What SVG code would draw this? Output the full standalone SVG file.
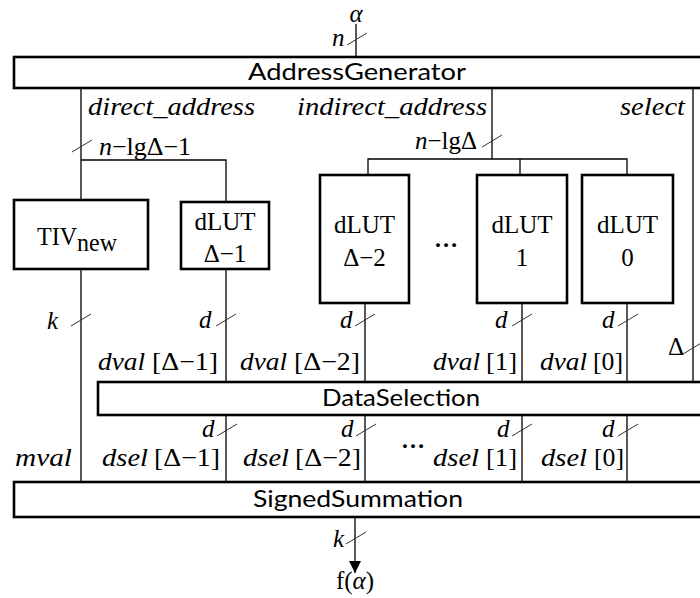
<svg xmlns="http://www.w3.org/2000/svg" xmlns:xlink="http://www.w3.org/1999/xlink" width="700" height="598" viewBox="0 0 700 598">
<style>
.box{fill:#fff;stroke:#000;stroke-width:2.6}
.ln{fill:none;stroke:#000;stroke-width:1.3}
.tk{fill:none;stroke:#333;stroke-width:1}
.sans{font-family:Lato,"Liberation Sans",sans-serif;font-size:23px;fill:#000}
.ser{font-family:"Liberation Serif",serif;font-size:25px;fill:#000}
.it{font-family:"Liberation Serif",serif;font-style:italic;font-size:25px;fill:#000}
.dots{font-family:"Liberation Serif",serif;font-weight:bold;font-size:24px;fill:#000}
</style>
<defs>
<path id="tick" d="M-10,6 L10,-6"/>
<marker id="arr" markerWidth="12" markerHeight="12" refX="12" refY="6" orient="auto" markerUnits="userSpaceOnUse" viewBox="0 0 12 12">
<path d="M0,0 L12,6 L0,12 Z" fill="#000"/>
</marker>
</defs>
<rect width="700" height="598" fill="#fff"/>

<g id="connectors">
<path class="ln" d="M356,24 V57"/>
<path class="ln" d="M81,88 V200 M81,269 V482"/>
<path class="ln" d="M81,160 H226 V202"/>
<path class="ln" d="M226,269 V382 M226,415 V482"/>
<path class="ln" d="M492,88 V159 M368,175 V159 H627 V175 M520,159 V175"/>
<path class="ln" d="M365,303 V382 M365,415 V482"/>
<path class="ln" d="M522,303 V382 M522,415 V482"/>
<path class="ln" d="M627,303 V382 M627,415 V482"/>
<path class="ln" d="M693,88 V382"/>
<path class="ln" d="M355,517 V573" marker-end="url(#arr)"/>
<g class="tk">
<use xlink:href="#tick" x="357" y="39"/>
<use xlink:href="#tick" x="82" y="146"/>
<use xlink:href="#tick" x="492" y="141"/>
<use xlink:href="#tick" x="81" y="320"/>
<use xlink:href="#tick" x="226" y="320"/>
<use xlink:href="#tick" x="365" y="320"/>
<use xlink:href="#tick" x="522" y="320"/>
<use xlink:href="#tick" x="628" y="320"/>
<use xlink:href="#tick" x="693" y="348"/>
<use xlink:href="#tick" x="227" y="430"/>
<use xlink:href="#tick" x="366" y="430"/>
<use xlink:href="#tick" x="522" y="430"/>
<use xlink:href="#tick" x="628" y="430"/>
<use xlink:href="#tick" x="356" y="538"/>
</g>
</g>

<g id="labels">
<text class="it" x="356" y="22" font-size="22" text-anchor="middle">α</text>
<text class="it" x="332" y="46">n</text>
<text class="it" x="88" y="115" textLength="167" lengthAdjust="spacingAndGlyphs">direct_address</text>
<text class="it" x="297" y="115" textLength="190" lengthAdjust="spacingAndGlyphs">indirect_address</text>
<text class="it" x="620" y="115" textLength="65" lengthAdjust="spacingAndGlyphs">select</text>
<text class="ser" x="99" y="155" textLength="92" lengthAdjust="spacingAndGlyphs"><tspan font-style="italic">n</tspan>−lgΔ−1</text>
<text class="ser" x="415" y="149" textLength="62" lengthAdjust="spacingAndGlyphs"><tspan font-style="italic">n</tspan>−lgΔ</text>
<text class="dots" x="446" y="247" text-anchor="middle">…</text>
<text class="it" x="47" y="329">k</text>
<text class="it" x="199" y="328">d</text>
<text class="it" x="340" y="328">d</text>
<text class="it" x="495" y="328">d</text>
<text class="it" x="602" y="328">d</text>
<text class="ser" x="668" y="355">Δ</text>
<text class="it" x="98" y="370" textLength="47" lengthAdjust="spacingAndGlyphs">dval</text>
<text class="ser" x="152" y="370" textLength="66" lengthAdjust="spacingAndGlyphs">[Δ−1]</text>
<text class="it" x="240" y="370" textLength="47" lengthAdjust="spacingAndGlyphs">dval</text>
<text class="ser" x="294" y="370" textLength="66" lengthAdjust="spacingAndGlyphs">[Δ−2]</text>
<text class="it" x="433" y="370" textLength="47" lengthAdjust="spacingAndGlyphs">dval</text>
<text class="ser" x="486" y="370" textLength="31" lengthAdjust="spacingAndGlyphs">[1]</text>
<text class="it" x="540" y="370" textLength="47" lengthAdjust="spacingAndGlyphs">dval</text>
<text class="ser" x="593" y="370" textLength="30" lengthAdjust="spacingAndGlyphs">[0]</text>
<text class="it" x="202" y="437">d</text>
<text class="it" x="341" y="437">d</text>
<text class="it" x="497" y="437">d</text>
<text class="it" x="602" y="437">d</text>
<text class="dots" x="413" y="448" text-anchor="middle">…</text>
<text class="it" x="15" y="466" textLength="57" lengthAdjust="spacingAndGlyphs">mval</text>
<text class="it" x="102" y="466" textLength="46" lengthAdjust="spacingAndGlyphs">dsel</text>
<text class="ser" x="154" y="466" textLength="66" lengthAdjust="spacingAndGlyphs">[Δ−1]</text>
<text class="it" x="243" y="466" textLength="46" lengthAdjust="spacingAndGlyphs">dsel</text>
<text class="ser" x="295" y="466" textLength="66" lengthAdjust="spacingAndGlyphs">[Δ−2]</text>
<text class="it" x="433" y="466" textLength="46" lengthAdjust="spacingAndGlyphs">dsel</text>
<text class="ser" x="486" y="466" textLength="31" lengthAdjust="spacingAndGlyphs">[1]</text>
<text class="it" x="541" y="466" textLength="46" lengthAdjust="spacingAndGlyphs">dsel</text>
<text class="ser" x="594" y="466" textLength="30" lengthAdjust="spacingAndGlyphs">[0]</text>
<text class="it" x="333" y="547">k</text>
<text class="ser" x="355" y="589" text-anchor="middle">f(<tspan font-style="italic">α</tspan>)</text>
</g>

<g id="AddressGenerator">
<rect class="box" x="14" y="57" width="700" height="31"/>
<text class="sans" x="357" y="80" text-anchor="middle" textLength="218" lengthAdjust="spacingAndGlyphs">AddressGenerator</text>
</g>

<g id="TIVnew">
<rect class="box" x="14" y="200" width="134" height="69"/>
<text class="ser" x="37" y="245" textLength="40" lengthAdjust="spacingAndGlyphs">TIV</text>
<text class="ser" x="77" y="251" font-size="21" textLength="40" lengthAdjust="spacingAndGlyphs">new</text>
</g>

<g id="dLUT_D1">
<rect class="box" x="181" y="202" width="88" height="67"/>
<text class="ser" x="225" y="230" font-size="26" text-anchor="middle">dLUT</text>
<text class="ser" x="225" y="262" font-size="26" text-anchor="middle">Δ−1</text>
</g>

<g id="dLUT_D2">
<rect class="box" x="320" y="175" width="89" height="128"/>
<text class="ser" x="364.5" y="233" font-size="26" text-anchor="middle">dLUT</text>
<text class="ser" x="364.5" y="266" font-size="26" text-anchor="middle">Δ−2</text>
</g>

<g id="dLUT_1">
<rect class="box" x="477" y="175" width="90" height="128"/>
<text class="ser" x="522" y="233" font-size="26" text-anchor="middle">dLUT</text>
<text class="ser" x="522" y="266" font-size="26" text-anchor="middle">1</text>
</g>

<g id="dLUT_0">
<rect class="box" x="582" y="175" width="91" height="128"/>
<text class="ser" x="627.5" y="233" font-size="26" text-anchor="middle">dLUT</text>
<text class="ser" x="627.5" y="266" font-size="26" text-anchor="middle">0</text>
</g>

<g id="DataSelection">
<rect class="box" x="98" y="382" width="620" height="33"/>
<text class="sans" x="401" y="406" text-anchor="middle" textLength="158" lengthAdjust="spacingAndGlyphs">DataSelection</text>
</g>

<g id="SignedSummation">
<rect class="box" x="14" y="482" width="700" height="35"/>
<text class="sans" x="358" y="507" text-anchor="middle" textLength="210" lengthAdjust="spacingAndGlyphs">SignedSummation</text>
</g>
</svg>
